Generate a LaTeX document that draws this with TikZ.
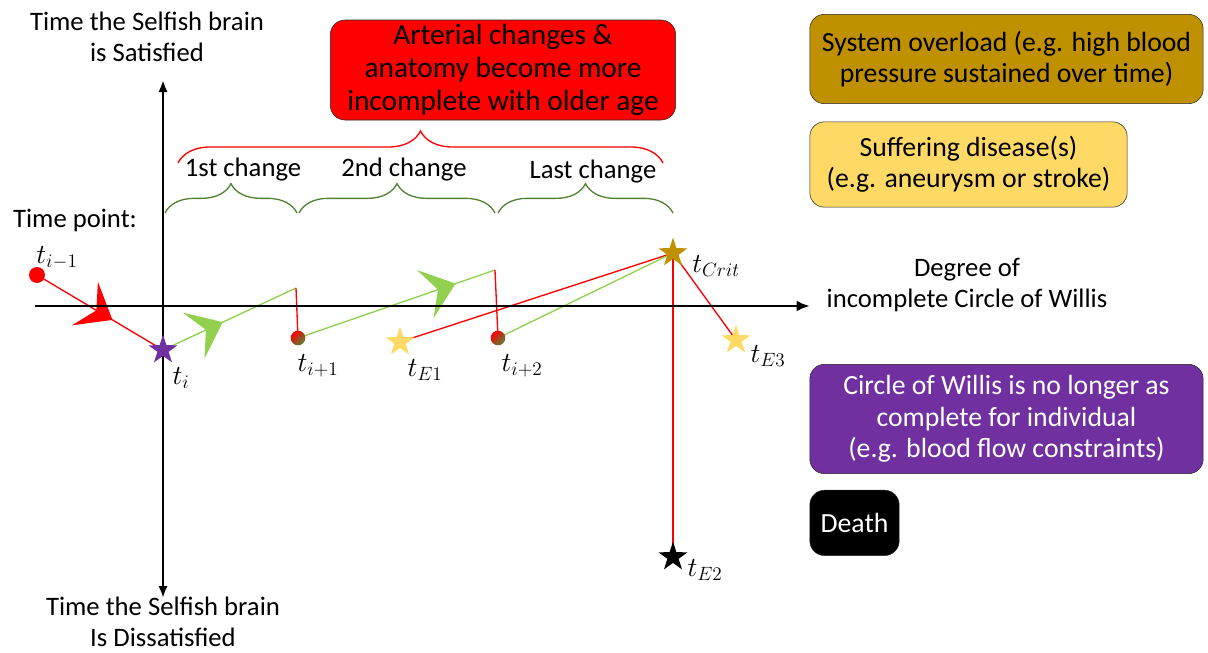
\documentclass[tikz,border=0pt]{standalone}
\usepackage{fontspec}
\setmainfont{Carlito}
\usetikzlibrary{arrows.meta,positioning,calc,shapes.geometric,decorations.pathreplacing,decorations.markings,backgrounds}

\definecolor{critgold}{HTML}{BF9000}
\definecolor{paleyellow}{HTML}{FFD966}
\definecolor{willispurple}{HTML}{7030A0}
\definecolor{stepgreen}{HTML}{92D050}
\definecolor{bracegreen}{HTML}{548235}

\begin{document}
\begin{tikzpicture}[
    x=0.75pt, y=-0.75pt,
    font=\fontsize{20}{23}\selectfont,
    box/.style={draw=black!85, rounded corners=11pt, align=center, inner sep=0pt,
        font=\fontsize{20.8}{23.5}\selectfont},
    tlab/.style={font=\fontsize{22}{26}\selectfont, inner sep=0pt},
    dot/.style={circle, minimum size=12pt, inner sep=0pt},
    mixdot/.style={dot, minimum size=11pt, top color=red, bottom color=bracegreen, shading angle=45},
    starpt/.style={star, star points=5, star point ratio=2.6, minimum size=23pt, inner sep=0pt},
    axis/.style={line width=2pt},
    redline/.style={red, line width=1pt},
    greenline/.style={stepgreen, line width=1pt},
    midhead/.style={postaction=decorate, decoration={markings,
        mark=at position #1 with {\arrow{Stealth[length=24pt, width=38pt, inset=10pt]}}}},
    changebrace/.style={decorate, decoration={brace, amplitude=#1}, line width=1pt},
]
\useasboundingbox (0,0) rectangle (1208,653);

% legend boxes
\node[box, fill=red, minimum width=259pt, minimum height=75pt,
  font=\fontsize{22}{24.5}\selectfont] (agebox) at (503,70)
  {Arterial changes \&\\anatomy become more\\incomplete with older age};
\node[box, fill=critgold, minimum width=295pt, minimum height=67pt] (overload) at (1006.5,59)
  {System overload (e.g. high blood\\pressure sustained over time)};
\node[box, fill=paleyellow, minimum width=238pt, minimum height=64pt] (disease) at (968.5,164.5)
  {Suffering disease(s)\\(e.g. aneurysm or stroke)};
\node[box, fill=willispurple, text=white, minimum width=295pt, minimum height=82pt] (willis) at (1006.5,419)
  {Circle of Willis is no longer as\\complete for individual\\(e.g. blood flow constraints)};
\node[box, fill=black, text=white, minimum width=67pt, minimum height=49pt, anchor=north west]
  (death) at ([yshift=-12pt]willis.south west) {Death};

% axes
\coordinate (ytop) at (163,80);
\coordinate (ybot) at (163,598);
\coordinate (xleft) at (35,306);
\coordinate (xright) at (810,306);
\draw[axis, {Latex[length=9pt,width=7pt]}-{Latex[length=9pt,width=7pt]}] (ybot) -- (ytop);
\draw[axis, -{Latex[length=10pt,width=8pt]}] (xleft) -- (xright);
\node[align=center] (satisfied) at (147,37) {Time the Selfish brain\\is Satisfied};
\node[align=center] (dissatisfied) at (163,622) {Time the Selfish brain\\Is Dissatisfied};
\node[align=center] (degree) at (967,285) {Degree of\\incomplete Circle of Willis};
\node (timepoint) at (75,220) {Time point:};

% braces
\coordinate (ageL) at (178,163);
\coordinate (ageR) at (663,163);
\draw[red, changebrace=24pt] (ageL) -- (ageR);
\foreach \a/\b in {165/297, 299/495, 498/673}
  \draw[bracegreen, changebrace=22pt] (\a,213) -- (\b,213);
\node (first) at (243,170) {1st change};
\node (second) at (404,170) {2nd change};
\node (last) at (593,172) {Last change};

% time points
\node[dot, fill=red] (tprev) at (37,275) {};
\node[starpt, fill=willispurple] (ti) at (163,350) {};
\coordinate (peak1) at (296,288);
\node[mixdot] (tnext) at (298,338) {};
\coordinate (peak2) at (495,270);
\node[mixdot] (tnext2) at (498,338) {};
\node[starpt, fill=paleyellow] (tE1) at (400,342) {};
\node[starpt, fill=critgold] (tcrit) at (673,253) {};
\node[starpt, fill=paleyellow] (tE3) at (736,340) {};
\node[starpt, fill=black] (tE2) at (673,557) {};

\node[tlab] (lprev) at (57,258) {$t_{i-1}$};
\node[tlab] (li) at (181,378) {$t_i$};
\node[tlab] (lnext) at (318,366) {$t_{i+1}$};
\node[tlab] (lE1) at (425,370) {$t_{E1}$};
\node[tlab] (lnext2) at (522,366) {$t_{i+2}$};
\node[tlab] (lcrit) at (716,266) {$t_{Crit}$};
\node[tlab] (lE3) at (768,356) {$t_{E3}$};
\node[tlab] (lE2) at (705,570) {$t_{E2}$};

% trajectories
\begin{scope}[on background layer]
\draw[redline, midhead=0.6] (tprev.center) -- (ti.center);
\draw[greenline, midhead=0.45] (ti.center) -- (peak1);
\draw[redline] (peak1) -- (tnext.center);
\draw[greenline, midhead=0.8] (tnext.center) -- (peak2);
\draw[redline] (peak2) -- (tnext2.center);
\draw[redline] (tE1.center) -- (tcrit.center);
\draw[greenline] (tnext2.center) -- (tcrit.center);
\draw[redline] (tcrit.center) -- (tE3.center);
\draw[redline] (tcrit.center) -- (tE2.center);
\end{scope}
\end{tikzpicture}
\end{document}
